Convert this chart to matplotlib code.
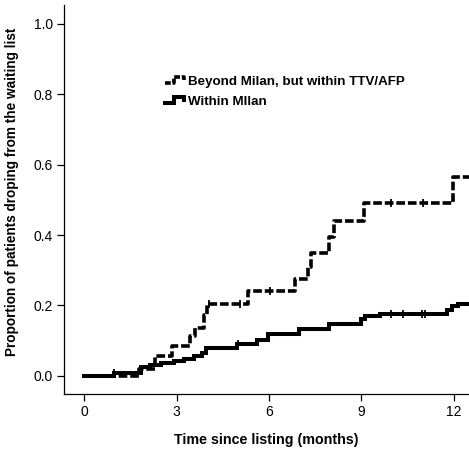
import numpy as np
import matplotlib
matplotlib.use("Agg")
import matplotlib.pyplot as plt
from matplotlib.legend_handler import HandlerBase
from matplotlib.lines import Line2D

plt.rcParams['font.family'] = ['Liberation Sans', 'DejaVu Sans']

# Beyond Milan, but within TTV/AFP (dashed)
beyond_t = [0, 1.78, 2.3, 2.86, 3.45, 3.6, 3.9, 3.97, 5.33, 6.84, 7.28, 7.35, 7.95, 8.1, 9.09, 11.98]
beyond_p = [0, 0.018, 0.055, 0.085, 0.114, 0.135, 0.173, 0.205, 0.24, 0.275, 0.31, 0.35, 0.394, 0.441, 0.492, 0.564]
beyond_cens = [4.06, 5.05, 6.03, 9.98, 10.99]

# Within Milan (solid)
within_t = [0, 0.96, 1.83, 2.15, 2.48, 2.91, 3.24, 3.56, 3.83, 3.95, 4.95, 5.6, 5.98, 6.97, 7.94, 9.0,
            9.12, 9.6, 11.77, 11.95, 12.15]
within_p = [0, 0.008, 0.026, 0.03, 0.036, 0.043, 0.048, 0.055, 0.064, 0.079, 0.091, 0.102, 0.118, 0.133,
            0.148, 0.16, 0.17, 0.176, 0.187, 0.197, 0.204]
within_cens = [0.96, 4.98, 9.98, 10.35, 10.97, 11.06]

t_end = 12.5
labels = ['Beyond Milan, but within TTV/AFP', 'Within MIlan']


class StepHandler(HandlerBase):
    # draws the little step symbol SPSS uses in survival legends
    def create_artists(self, legend, orig_handle, xdescent, ydescent, width, height, fontsize, trans):
        x0, w = -xdescent, width
        y0, h = -ydescent, height
        xs = [x0, x0 + 0.42 * w, x0 + 0.42 * w, x0 + 0.88 * w, x0 + 0.88 * w]
        ys = [y0 + 0.2 * h, y0 + 0.2 * h, y0 + 0.85 * h, y0 + 0.85 * h, y0 + 0.55 * h]
        line = Line2D(xs, ys, color='black', lw=orig_handle.get_linewidth(),
                      linestyle=orig_handle.get_linestyle(), solid_joinstyle='miter')
        if orig_handle.get_linestyle() != '-':
            line.set_dashes((1.6, 0.5))
        line.set_transform(trans)
        return [line]


def step_value(times, probs, t):
    idx = np.searchsorted(times, t, side='right') - 1
    return np.asarray(probs)[idx]


fig = plt.figure(figsize=(4.69, 4.5), dpi=100)
ax = fig.add_axes([0.1365, 0.1244, 0.8635, 0.8645])

lw = 2.6
h1, = ax.step(beyond_t + [t_end], beyond_p + [beyond_p[-1]], where='post', color='black',
              lw=lw, dashes=(2.4, 0.8), solid_joinstyle='miter')
h2, = ax.step(within_t + [t_end], within_p + [within_p[-1]], where='post', color='black',
              lw=lw + 0.3, solid_joinstyle='miter')

ax.plot(beyond_cens, step_value(beyond_t, beyond_p, beyond_cens), ls='none', marker='|',
        color='black', ms=6, mew=1.3)
ax.plot(within_cens, step_value(within_t, within_p, within_cens), ls='none', marker='|',
        color='black', ms=6, mew=1.3)

ax.set_xlim(-0.66, 12.5)
ax.set_ylim(-0.052, 1.054)
ax.set_xticks([0, 3, 6, 9, 12])
ax.set_yticks(np.arange(0, 1.01, 0.2))
ax.set_yticklabels([f'{v:.1f}' for v in np.arange(0, 1.01, 0.2)])
for s in ['top', 'right']:
    ax.spines[s].set_visible(False)
ax.spines['left'].set_linewidth(0.9)
ax.spines['bottom'].set_linewidth(0.9)
ax.tick_params(direction='out', length=5, width=0.9, labelsize=10, pad=3)

ax.set_xlabel('Time since listing (months)', fontsize=10.3, fontweight='bold', labelpad=10)
ax.set_ylabel('Proportion of patients droping from the waiting list', fontsize=9.8,
              fontweight='bold')
ax.yaxis.set_label_coords(-0.112, 0.52)

leg = ax.legend([h1, h2], labels, loc='upper left', bbox_to_anchor=(0.25, 0.818),
                frameon=False, handler_map={Line2D: StepHandler()}, handlelength=1.6,
                handletextpad=0.1, borderpad=0, borderaxespad=0, labelspacing=0.55,
                prop={'weight': 'bold', 'size': 9.6})

fig.savefig('out.png', dpi=100)
